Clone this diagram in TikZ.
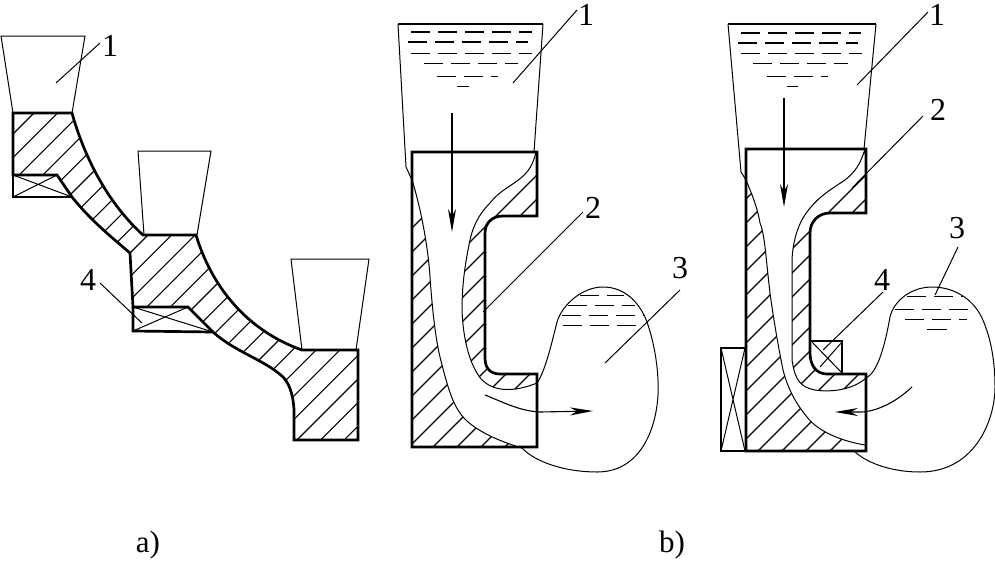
\documentclass[tikz,border=0pt]{standalone}
\usepackage{fontspec}
\setmainfont{Liberation Serif}
\usetikzlibrary{arrows.meta}
\tikzset{
  thick outline/.style={line width=2.7pt,line join=miter,black},
  thin line/.style={line width=1pt,black},
  top line/.style={line width=1.7pt,black},
  hatch line/.style={line width=1.1pt,black},
  dash heavy/.style={line width=1.6pt,dash pattern=on 19pt off 8pt,black},
  dash light/.style={line width=1pt,dash pattern=on 19pt off 8pt,black},
  flow/.style={line width=1.1pt,black,-{Stealth[length=23pt,width=8pt,inset=7pt]}},
  numfont/.style={font=\fontsize{32pt}{32pt}\selectfont,inner sep=0pt,anchor=center},
  capfont/.style={font=\fontsize{31pt}{31pt}\selectfont,inner sep=0pt,anchor=center},
}
\newcommand{\hatchfill}[3]{%
  \begin{scope}
    \clip #1;
    \foreach \c in {#2,...,#3} {\draw[hatch line] (\c,0) -- (0,\c);}
  \end{scope}}
\begin{document}
\begin{tikzpicture}[x=1pt,y=-1pt]
\useasboundingbox (0,0) rectangle (995,562);
\fill[white] (0,0) rectangle (995,562);

% ---------- a)
\def\aShape{(13,113) -- (72,113) .. controls (80,142) and (100,196) .. (143,235) -- (196,235)
  .. controls (212,288) and (248,331) .. (302,350) -- (358,350) -- (358,440) -- (294,440) -- (294,410)
  .. controls (293,392) and (288,382) .. (283,377) .. controls (265,360) and (235,352) .. (213,332) -- (188,307) -- (133,307)
  -- (130,253) .. controls (115,240) and (92,222) .. (72,197) -- (57,175) -- (13,175) -- cycle}
\hatchfill{\aShape}{147,170.6}{800}
\draw[thick outline] \aShape;
% core pieces
\draw[thick outline] (13,175) -- (13,197) -- (72,197);
\draw[thin line] (13,175) -- (72,197) (13,197) -- (57,175);
\draw[thick outline] (133,307) -- (133,331) -- (213,332);
\draw[thin line] (133,307) -- (213,332) (133,331) -- (188,307);
% funnels
\draw[thin line] (13,113) -- (1,36) -- (85,36) -- (72,113);
\draw[thin line] (144,235) -- (138,151) -- (211,151) -- (197,235);
\draw[thin line] (302,350) -- (291,259) -- (369,259) -- (356,350);
% leaders and labels
\node[numfont] (a1) at (110,46) {1};
\draw[thin line] (100,43) -- (56,83);
\node[numfont] (a4) at (88,280) {4};
\draw[thin line] (100,283) -- (142,323);
\node[capfont] (capa) at (148,545) {a)};
\node[capfont] (capb) at (672,545) {b)};

% ---------- b) left
\def\bChL{(412,180) .. controls (420,205) and (428,245) .. (430,277) .. controls (433,320) and (437,345) .. (440,357)
  .. controls (447,385) and (452,402) .. (460,413) .. controls (470,428) and (495,440) .. (522,448)}
\def\bChR{(536,152) .. controls (533,165) and (528,172) .. (522,177) .. controls (512,186) and (500,190) .. (490,203)
  .. controls (478,215) and (472,228) .. (469,245) .. controls (465,265) and (462,285) .. (462,310)
  .. controls (463,340) and (470,362) .. (477,373) .. controls (485,388) and (505,396) .. (537,383)}
\hatchfill{(412,152) -- (412,447) -- (540,447) -- (522,448) .. controls (495,440) and (470,428) .. (460,413)
  .. controls (452,402) and (447,385) .. (440,357) .. controls (437,345) and (433,320) .. (430,277)
  .. controls (428,245) and (420,205) .. (412,180) -- cycle}{640,664}{980}
\hatchfill{(536,152) .. controls (533,165) and (528,172) .. (522,177) .. controls (512,186) and (500,190) .. (490,203)
  .. controls (478,215) and (472,228) .. (469,245) .. controls (465,265) and (462,285) .. (462,310)
  .. controls (463,340) and (470,362) .. (477,373) .. controls (485,388) and (505,396) .. (537,383)
  -- (537,374) -- (500,374) .. controls (490,374) and (485,368) .. (485,358) -- (485,233) .. controls (485,223) and (492,216) .. (503,216)
  -- (537,216) -- cycle}{640,664}{980}
\draw[thin line] \bChL;
\draw[thin line] \bChR;
\draw[thick outline] (412,152) -- (537,152) -- (537,216) -- (503,216) .. controls (492,216) and (485,223) .. (485,233)
  -- (485,358) .. controls (485,368) and (490,374) .. (500,374) -- (537,374) -- (537,447) -- (412,447) -- cycle;
% funnel
\draw[thin line] (412,180) -- (406,167) -- (398,24) (543,24) -- (534,152);
\draw[top line] (398,24) -- (543,24);
\draw[dash heavy] (411,32) -- (532,32);
\draw[dash heavy] (408,42) -- (528,42);
\draw[dash light] (411,53) -- (532,53);
\draw[dash light] (424,63) -- (518,63);
\draw[dash light] (437,76) -- (498,76);
\draw[thin line] (457,86) -- (469,86);
% mould
\draw[thin line] (537,383) .. controls (545,372) and (552,342) .. (557,322)
  .. controls (562,305) and (582,287) .. (603,287) .. controls (625,287) and (640,303) .. (647,322)
  .. controls (655,345) and (659,372) .. (658,395) .. controls (656,430) and (640,472) .. (597,472)
  .. controls (565,472) and (535,462) .. (522,448);
\draw[dash light] (580,295) -- (624,295);
\draw[dash light] (568,305) -- (635,305);
\draw[dash light] (562,315) -- (645,315);
\draw[dash light] (563,325) -- (640,325);
% flows
\draw[flow] (452,113) -- (452,232);
\draw[flow] (485,395) .. controls (505,403) and (520,411) .. (540,412) -- (593,411);
% leaders
\node[numfont] (b1) at (586,15) {1};
\draw[thin line] (513,83) -- (577,10);
\node[numfont] (b2) at (593,208) {2};
\draw[thin line] (483,312) -- (583,212);
\node[numfont] (b3) at (680,268) {3};
\draw[thin line] (680,290) -- (605,363);

% ---------- b) right
\hatchfill{(746,149) -- (746,451) -- (866,451) -- (865,445) .. controls (835,440) and (815,428) .. (807,417)
  .. controls (793,400) and (787,385) .. (783,370) .. controls (777,340) and (773,315) .. (770,293)
  .. controls (766,260) and (765,235) .. (760,223) .. controls (757,205) and (750,190) .. (746,180) -- cycle}{945,969}{1300}
\hatchfill{(865,149) .. controls (860,165) and (855,172) .. (845,180) .. controls (830,190) and (818,197) .. (807,212)
  .. controls (797,225) and (792,245) .. (792,263) -- (792,360) .. controls (795,380) and (800,387) .. (815,390)
  .. controls (835,393) and (855,388) .. (866,378) -- (866,374) -- (827,374)
  .. controls (816,374) and (810,365) .. (810,353) -- (810,233) .. controls (810,222) and (818,213) .. (830,213)
  -- (866,213) -- cycle}{945,969}{1300}
\draw[thin line] (746,180) .. controls (750,190) and (757,205) .. (760,223) .. controls (765,235) and (766,260) .. (770,293)
  .. controls (773,315) and (777,340) .. (783,370) .. controls (787,385) and (793,400) .. (807,417) .. controls (815,428) and (835,440) .. (865,445);
\draw[thin line] (865,149) .. controls (860,165) and (855,172) .. (845,180) .. controls (830,190) and (818,197) .. (807,212)
  .. controls (797,225) and (792,245) .. (792,263) -- (792,360) .. controls (795,380) and (800,387) .. (815,390)
  .. controls (835,393) and (855,388) .. (866,378);
\draw[thick outline] (746,149) -- (866,149) -- (866,213) -- (830,213) .. controls (818,213) and (810,222) .. (810,233)
  -- (810,353) .. controls (810,365) and (816,374) .. (827,374) -- (866,374) -- (866,451) -- (746,451) -- cycle;
% side core
\draw[thick outline] (746,348) -- (721,348) -- (721,451) -- (746,451);
\draw[thin line] (721,348) -- (745,451) (745,348) -- (721,451);
% small core
\draw[thick outline] (810,341) -- (842,341) -- (842,374);
\draw[thin line] (812,342) -- (842,373) (842,342) -- (820,367);
% funnel
\draw[thin line] (746,180) -- (741,172) -- (728,24) (876,24) -- (864,149);
\draw[top line] (728,24) -- (876,24);
\draw[dash heavy] (741,33) -- (861,33);
\draw[dash heavy] (738,43) -- (858,43);
\draw[dash light] (741,53) -- (862,53);
\draw[dash light] (753,63) -- (848,63);
\draw[dash light] (767,76) -- (828,76);
\draw[thin line] (787,86) -- (798,86);
% mould
\draw[thin line] (866,378) .. controls (878,372) and (885,345) .. (890,317)
  .. controls (894,300) and (912,287) .. (932,287) .. controls (952,287) and (972,297) .. (982,318)
  .. controls (992,340) and (995,365) .. (995,387) .. controls (995,420) and (975,472) .. (920,472)
  .. controls (895,472) and (870,465) .. (855,452);
\draw[dash light] (907,296) -- (963,296);
\draw[dash light] (895,309) -- (975,309);
\draw[dash light] (905,319) -- (967,319);
\draw[thin line] (927,329) -- (947,329);
% flows
\draw[flow] (784,98) -- (784,207);
\draw[flow] (912,387) .. controls (895,403) and (875,412) .. (860,412) -- (835,412);
% leaders
\node[numfont] (c1) at (937,15) {1};
\draw[thin line] (857,85) -- (928,12);
\node[numfont] (c2) at (938,110) {2};
\draw[thin line] (852,188) -- (923,116);
\node[numfont] (c3) at (957,228) {3};
\draw[thin line] (935,295) -- (958,247);
\node[numfont] (c4) at (882,280) {4};
\draw[thin line] (823,350) -- (883,292);
\end{tikzpicture}
\end{document}
